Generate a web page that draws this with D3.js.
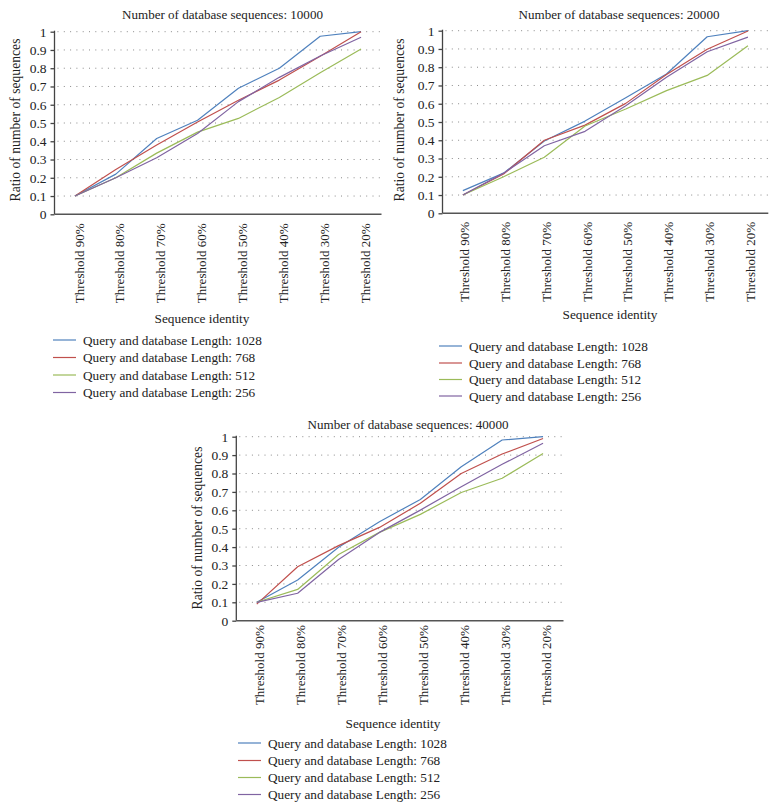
<!DOCTYPE html>
<html>
<head>
<meta charset="utf-8">
<script src="https://cdnjs.cloudflare.com/ajax/libs/d3/7.8.5/d3.min.js"></script>
<style>
  body { margin: 0; background: #fff; }
  svg text { font-family: "Liberation Serif", "DejaVu Serif", serif; fill: #222; }
</style>
</head>
<body>
<svg id="chart" width="777" height="810"></svg>
<script>
// thresholds along the x axis
var thresholds = ["Threshold 90%", "Threshold 80%", "Threshold 70%", "Threshold 60%",
                  "Threshold 50%", "Threshold 40%", "Threshold 30%", "Threshold 20%"];
var seriesNames = ["Query and database Length: 1028", "Query and database Length: 768",
                   "Query and database Length: 512", "Query and database Length: 256"];
var seriesColors = ["#4F81BD", "#C0504D", "#9BBB59", "#8064A2"];
var yTicks = [0, 0.1, 0.2, 0.3, 0.4, 0.5, 0.6, 0.7, 0.8, 0.9, 1];

// Number of database sequences: 10000
var db10000 = [
    [0.10, 0.22, 0.415, 0.515, 0.69, 0.80, 0.975, 1.00],
    [0.10, 0.245, 0.38, 0.505, 0.625, 0.735, 0.865, 1.00],
    [0.10, 0.20, 0.335, 0.45, 0.525, 0.64, 0.775, 0.905],
    [0.10, 0.20, 0.31, 0.443, 0.617, 0.75, 0.867, 0.97]
];
// Number of database sequences: 20000
var db20000 = [
    [0.124, 0.22, 0.396, 0.505, 0.633, 0.763, 0.967, 1.00],
    [0.10, 0.215, 0.40, 0.483, 0.602, 0.76, 0.898, 0.998],
    [0.10, 0.20, 0.307, 0.478, 0.571, 0.672, 0.755, 0.918],
    [0.10, 0.22, 0.37, 0.449, 0.589, 0.745, 0.885, 0.965]
];
// Number of database sequences: 40000
var db40000 = [
    [0.10, 0.221, 0.399, 0.538, 0.659, 0.837, 0.982, 1.00],
    [0.09, 0.293, 0.408, 0.507, 0.638, 0.80, 0.906, 0.99],
    [0.10, 0.17, 0.36, 0.48, 0.578, 0.697, 0.774, 0.909],
    [0.10, 0.149, 0.333, 0.48, 0.601, 0.728, 0.85, 0.964]
];

var svg = d3.select("#chart");

// pick a font size so a sample string comes out at the width seen in the picture
function fitSize(sample, width) {
    var t = svg.append("text").style("font-size", "20px").text(sample);
    var w = t.node().getComputedTextLength();
    t.remove();
    return (20 * width / w).toFixed(2) + "px";
}
var fs = {
    title: fitSize("Number of database sequences: 10000", 201),
    legend: fitSize("Query and database Length: 1028", 179),
    xlab: fitSize("Threshold 90%", 80),
    ylab: fitSize("Ratio of number of sequences", 163),
    axis: fitSize("Sequence identity", 95)
};

function drawPanel(cfg) {
    var x = d3.scalePoint().domain(thresholds).range([cfg.left, cfg.right]).padding(0.5);
    var y = d3.scaleLinear().domain([0, 1]).range([cfg.bottom, cfg.top]);
    var g = svg.append("g");

    // dotted horizontal grid
    g.selectAll("line.grid")
        .data(yTicks.slice(1))
        .enter().append("line")
        .attr("x1", cfg.left + 3).attr("x2", cfg.right)
        .attr("y1", function (d) { return y(d); })
        .attr("y2", function (d) { return y(d); })
        .attr("stroke", "#8a8a8a")
        .attr("stroke-width", 1)
        .attr("stroke-dasharray", "1,5.3");

    // y axis
    var yAxis = g.append("g")
        .attr("transform", "translate(" + cfg.left + ",0)")
        .call(d3.axisLeft(y).tickValues(yTicks).tickSize(4).tickPadding(4)
            .tickFormat(function (d) { return d === 0 || d === 1 ? d3.format("d")(d) : d3.format(".1f")(d); }));
    yAxis.selectAll("path, line").attr("stroke", "#444").attr("stroke-width", 1.3);
    yAxis.select(".domain").attr("d", "M0," + (cfg.top - 1) + "V" + cfg.bottom);
    yAxis.selectAll("text").style("font-size", "13.5px").attr("fill", "#222");

    // x axis line
    g.append("line")
        .attr("x1", cfg.left).attr("x2", cfg.right)
        .attr("y1", cfg.bottom).attr("y2", cfg.bottom)
        .attr("stroke", "#555").attr("stroke-width", 1.5);

    // x tick labels, rotated
    g.selectAll("text.xlab")
        .data(thresholds)
        .enter().append("text")
        .attr("transform", function (d) {
            return "translate(" + (x(d) + cfg.labelShift) + "," + (cfg.bottom + cfg.labelGap) + ") rotate(-90)";
        })
        .attr("text-anchor", "end")
        .attr("dy", "0.35em")
        .style("font-size", fs.xlab)
        .text(function (d) { return d; });

    // series lines
    var line = d3.line()
        .x(function (d, i) { return x(thresholds[i]); })
        .y(function (d) { return y(d); });
    cfg.data.forEach(function (vals, k) {
        g.append("path")
            .datum(vals)
            .attr("fill", "none")
            .attr("stroke", seriesColors[k])
            .attr("stroke-width", 1.2)
            .attr("stroke-linejoin", "round")
            .attr("d", line);
    });

    // titles
    g.append("text")
        .attr("x", cfg.titleX).attr("y", cfg.titleY)
        .attr("text-anchor", "middle")
        .style("font-size", fs.title)
        .text(cfg.title);
    g.append("text")
        .attr("transform", "translate(" + cfg.yLabelX + "," + cfg.yLabelY + ") rotate(-90)")
        .attr("text-anchor", "middle")
        .attr("dy", "0.35em")
        .style("font-size", fs.ylab)
        .text("Ratio of number of sequences");
    g.append("text")
        .attr("x", cfg.xLabelX).attr("y", cfg.xLabelY)
        .attr("text-anchor", "middle")
        .attr("dy", "0.35em")
        .style("font-size", fs.axis)
        .text("Sequence identity");

    // legend
    var leg = g.selectAll("g.legend")
        .data(seriesNames)
        .enter().append("g")
        .attr("transform", function (d, i) { return "translate(" + cfg.legX + "," + cfg.legY[i] + ")"; });
    leg.append("line")
        .attr("x1", 0).attr("x2", 23)
        .attr("stroke", function (d, i) { return seriesColors[i]; })
        .attr("stroke-width", 1.2);
    leg.append("text")
        .attr("x", 30)
        .attr("dy", "0.35em")
        .style("font-size", fs.legend)
        .text(function (d) { return d; });
}

drawPanel({
    title: "Number of database sequences: 10000", data: db10000,
    left: 54.5, right: 381.5, top: 31.7, bottom: 214.3,
    titleX: 222.5, titleY: 19, yLabelX: 15, yLabelY: 120,
    xLabelX: 202, xLabelY: 318, labelGap: 9, labelShift: 4,
    legX: 53, legY: [340, 357.5, 375, 392.5]
});
drawPanel({
    title: "Number of database sequences: 20000", data: db20000,
    left: 442.5, right: 768.3, top: 30.7, bottom: 213.3,
    titleX: 619, titleY: 19, yLabelX: 399, yLabelY: 120,
    xLabelX: 610, xLabelY: 314, labelGap: 8.5, labelShift: 2,
    legX: 439, legY: [346, 363, 379.5, 396]
});
drawPanel({
    title: "Number of database sequences: 40000", data: db40000,
    left: 236.3, right: 563.5, top: 436.7, bottom: 620.7,
    titleX: 408, titleY: 429, yLabelX: 197, yLabelY: 528,
    xLabelX: 393, xLabelY: 723, labelGap: 4.5, labelShift: 3,
    legX: 238, legY: [743, 760.5, 777.5, 794.5]
});
</script>
</body>
</html>
